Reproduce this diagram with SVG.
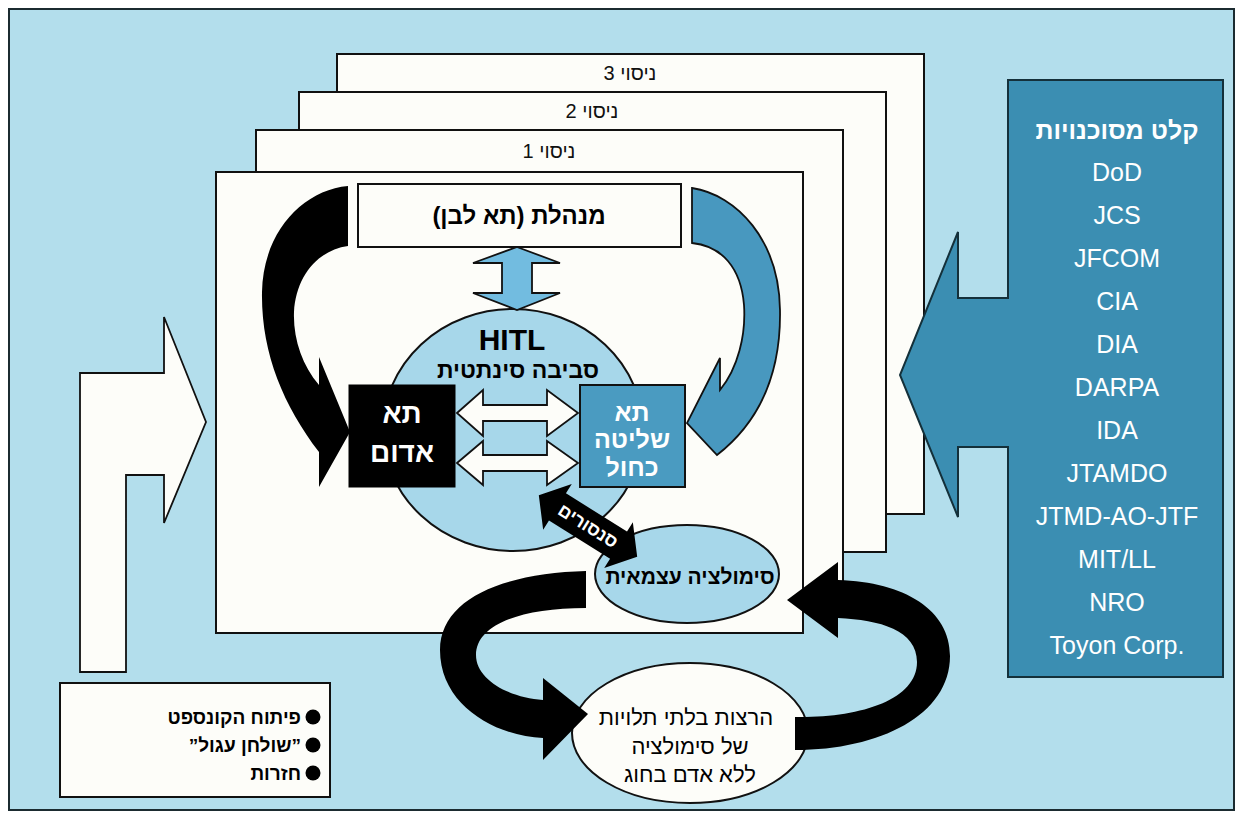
<svg xmlns="http://www.w3.org/2000/svg" width="1243" height="816" viewBox="0 0 1243 816">
<style>
text{font-family:"Liberation Sans","DejaVu Sans",Arial,sans-serif;}
.bx{fill:#fdfdf9;stroke:#111;stroke-width:2;}
.lbl{font-size:20px;fill:#111;text-anchor:middle;}
.bold{font-weight:bold;}
.wt{fill:#fff;}
.blk{fill:#000;}
.agency{font-size:25px;fill:#fff;text-anchor:middle;}
.mid{text-anchor:middle;}
</style>
<rect x="0" y="0" width="1243" height="816" fill="#fff"/>
<rect id="frame" x="9" y="9" width="1225" height="801" fill="#b3deec" stroke="#1b2b30" stroke-width="2"/>

<g id="trial3"><rect class="bx" x="337" y="54" width="587" height="460"/><text class="lbl" x="630" y="80" direction="rtl">ניסוי 3</text></g>
<g id="trial2"><rect class="bx" x="299" y="92" width="587" height="460"/><text class="lbl" x="592" y="118" direction="rtl">ניסוי 2</text></g>
<g id="trial1"><rect class="bx" x="256" y="130" width="587" height="460"/><text class="lbl" x="549" y="158" direction="rtl">ניסוי 1</text></g>
<g id="main-box"><rect class="bx" x="216" y="172" width="587" height="461"/></g>

<g id="input-arrow"><path d="M80,672 V373 H164 V317 L206,422 L164,523 V475 H126 V672 Z" fill="#fdfdf9" stroke="#111" stroke-width="1.8"/></g>

<g id="legend">
<rect class="bx" x="60" y="683" width="270" height="114"/>
<circle cx="313" cy="717" r="7.5"/><circle cx="313" cy="745" r="7.5"/><circle cx="313" cy="773" r="7.5"/>
<text class="bold" x="301" y="724" font-size="19" text-anchor="end">פיתוח הקונספט</text>
<text class="bold" x="301" y="752" font-size="19" text-anchor="end">”שולחן עגול”</text>
<text class="bold" x="301" y="780" font-size="19" text-anchor="end">חזרות</text>
</g>

<g id="agencies">
<path d="M1008,80 H1223 V677 H1008 V447 H958 V517 L900,375 L958,232 V298 H1008 Z" fill="#3b8eb2" stroke="#14303a" stroke-width="2"/>
<text class="agency bold" x="1117" y="139" font-size="26" direction="rtl">קלט מסוכנויות</text>
<text class="agency" x="1117" y="181">DoD</text>
<text class="agency" x="1117" y="224">JCS</text>
<text class="agency" x="1117" y="267">JFCOM</text>
<text class="agency" x="1117" y="310">CIA</text>
<text class="agency" x="1117" y="353">DIA</text>
<text class="agency" x="1117" y="396">DARPA</text>
<text class="agency" x="1117" y="439">IDA</text>
<text class="agency" x="1117" y="482">JTAMDO</text>
<text class="agency" x="1117" y="525">JTMD-AO-JTF</text>
<text class="agency" x="1117" y="568">MIT/LL</text>
<text class="agency" x="1117" y="611">NRO</text>
<text class="agency" x="1117" y="654">Toyon Corp.</text>
</g>

<g id="management"><rect class="bx" x="358" y="184" width="323" height="63"/><text class="bold mid" x="519" y="224" font-size="24" direction="rtl">מנהלת (תא לבן)</text></g>

<g id="hitl">
<ellipse cx="513" cy="430" rx="130" ry="121" fill="#a7d7ea" stroke="#111" stroke-width="2"/>
<text class="bold mid" x="512" y="350" font-size="30">HITL</text>
<text class="bold mid" x="518" y="378" font-size="23" direction="rtl">סביבה סינתטית</text>
</g>

<g id="red-cell"><rect x="349" y="385" width="106" height="102" fill="#000" stroke="#000" stroke-width="1"/>
<text class="bold mid wt" x="402" y="423" font-size="28" direction="rtl">תא</text>
<text class="bold mid wt" x="402" y="462" font-size="28" direction="rtl">אדום</text></g>

<g id="blue-cell"><rect x="580" y="385" width="105" height="102" fill="#4a9bc1" stroke="#111" stroke-width="2"/>
<text class="bold mid wt" x="632" y="421" font-size="25" direction="rtl">תא</text>
<text class="bold mid wt" x="632" y="448" font-size="25" direction="rtl">שליטה</text>
<text class="bold mid wt" x="632" y="476" font-size="25" direction="rtl">כחול</text></g>

<g id="sim-ellipse"><ellipse cx="687" cy="574" rx="92" ry="49" fill="#a7d7ea" stroke="#111" stroke-width="2"/>
<text class="bold mid" x="690" y="584" font-size="21" direction="rtl">סימולציה עצמאית</text></g>

<g id="runs-ellipse"><ellipse cx="690" cy="733" rx="118" ry="70" fill="#fdfdf9" stroke="#111" stroke-width="2"/>
<text class="mid" x="686" y="725" font-size="22" direction="rtl">הרצות בלתי תלויות</text>
<text class="mid" x="690" y="754" font-size="22" direction="rtl">של סימולציה</text>
<text class="mid" x="690" y="782" font-size="22" direction="rtl">ללא אדם בחוג</text></g>

<g id="connectors">
<path id="white-to-red" class="blk" d="M348,186 C303,190 263,232 262,292 C261,352 283,405 319,452 L319,487 L350,432 L319,357 L319,385 C302,365 293,338 294,312 C296,276 318,250 348,246 Z"/>
<path id="white-to-blue" d="M692,188 C737,195 779,240 780,310 C781,370 762,420 717,455 L687,423 L720,358 L720,390 C738,368 746,335 744,305 C741,268 722,246 692,243 Z" fill="#4898bf" stroke="#111" stroke-width="1.8"/>
<path id="mgmt-hitl" d="M517,247 L560,263 L532,263 L532,293 L560,293 L517,310 L473,293 L502,293 L502,263 L473,263 Z" fill="#72bce0" stroke="#111" stroke-width="1.8"/>
<path id="red-blue-1" d="M457,413 L483,390 L483,405 L547,405 L547,390 L578,413 L547,436 L547,421 L483,421 L483,436 Z" fill="#fdfdf9" stroke="#111" stroke-width="1.8"/>
<path id="red-blue-2" d="M457,463 L483,441 L483,455 L547,455 L547,441 L578,463 L547,485 L547,471 L483,471 L483,485 Z" fill="#fdfdf9" stroke="#111" stroke-width="1.8"/>
<g id="sensors" transform="translate(588,526) rotate(32)">
<path class="blk" d="M-58,0 L-36,-27 L-36,-16 L36,-16 L36,-27 L58,0 L36,27 L36,16 L-36,16 L-36,27 Z"/>
<text class="bold mid wt" x="0" y="6" font-size="18" direction="rtl">סנסורים</text>
</g>
<path id="sim-to-runs" class="blk" d="M586,571 C505,573 440,598 440,650 C440,705 495,736 543,738 L543,760 L588,714 L543,678 L543,700 C510,698 476,680 476,655 C476,625 520,608 586,608 Z"/>
<path id="runs-to-sim" class="blk" d="M795,717 C860,718 917,700 917,662 C917,630 880,620 838,618 L838,638 L787,600 L838,562 L838,580 C905,582 950,610 950,656 C950,715 880,750 795,750 Z"/>
</g>
</svg>
